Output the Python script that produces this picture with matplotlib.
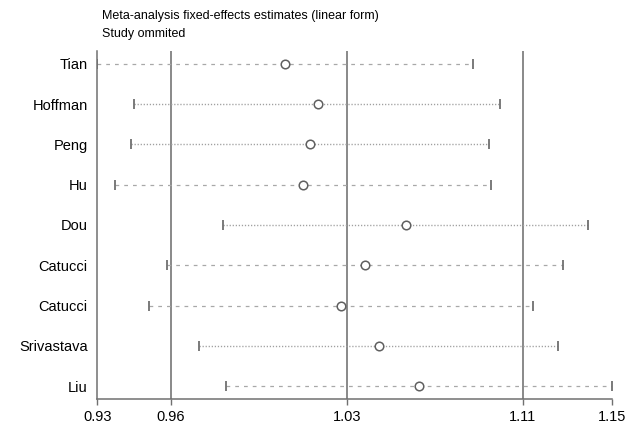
import numpy as np
import matplotlib.pyplot as plt

plt.rcParams['font.family'] = ['Liberation Sans', 'DejaVu Sans']

studies = ["Tian", "Hoffman", "Peng", "Hu", "Dou", "Catucci", "Catucci", "Srivastava", "Liu"]
est = [1.0064, 1.0199, 1.0167, 1.0139, 1.0576, 1.0399, 1.0300, 1.0459, 1.0636]
lower = [0.9312, 0.9455, 0.9444, 0.9381, 0.9808, 0.9583, 0.9514, 0.9713, 0.9819]
upper = [1.0876, 1.0997, 1.0946, 1.0955, 1.1404, 1.1286, 1.1150, 1.1264, 1.1519]
# overall estimate and its CI, plus the outer limits
ticks = [0.9312, 0.9600, 1.0323, 1.1100, 1.1519]
ref_lines = [0.9600, 1.0323, 1.1100]

fig = plt.figure(figsize=(6.34, 4.30), dpi=100)
ax = fig.add_axes([0.1535, 0.0721, 0.8123, 0.8093])
ax.set_xscale('log')

y = np.arange(1, len(studies) + 1)

for v in ref_lines:
    ax.axvline(v, color='#808080', lw=1.3, zorder=1)

# dotted vs dashed look of the CI lines in the picture
dashed = [0, 3, 5, 6, 8]
for i in range(len(studies)):
    if i in dashed:
        ax.plot([lower[i], upper[i]], [y[i], y[i]], color='#a8a8a8', lw=0.9,
                ls=(0, (3, 4)), zorder=2)
    else:
        ax.plot([lower[i], upper[i]], [y[i], y[i]], color='#a0a0a0', lw=1.0,
                ls=(0, (0.9, 1.3)), zorder=2)
ax.scatter(lower, y, marker='|', s=55, color='#707070', lw=1.3, zorder=3)
ax.scatter(upper, y, marker='|', s=55, color='#707070', lw=1.3, zorder=3)
ax.scatter(est, y, s=38, facecolor='white', edgecolor='#606060', lw=1.1, zorder=4)

ax.set_xlim(ticks[0], ticks[-1])
ax.set_ylim(len(studies) + 0.32, 1 - 0.32)
ax.set_yticks(y)
ax.set_yticklabels(studies, fontsize=10.5)
ax.tick_params(axis='y', length=0, pad=7)
ax.set_xticks(ticks)
ax.set_xticklabels([f"{t:.2f}" for t in ticks], fontsize=10.5)
ax.xaxis.set_minor_locator(plt.NullLocator())
ax.tick_params(axis='x', length=4, width=1, color='#707070', pad=4)

for s in ['top', 'right']:
    ax.spines[s].set_visible(False)
for s in ['left', 'bottom']:
    ax.spines[s].set_color('#707070')
    ax.spines[s].set_linewidth(1.1)

fig.text(0.161, 0.962, "Meta-analysis fixed-effects estimates (linear form)", fontsize=9, va='center')
fig.text(0.161, 0.922, "Study ommited", fontsize=9, va='center')

fig.savefig("out.png", dpi=100)
